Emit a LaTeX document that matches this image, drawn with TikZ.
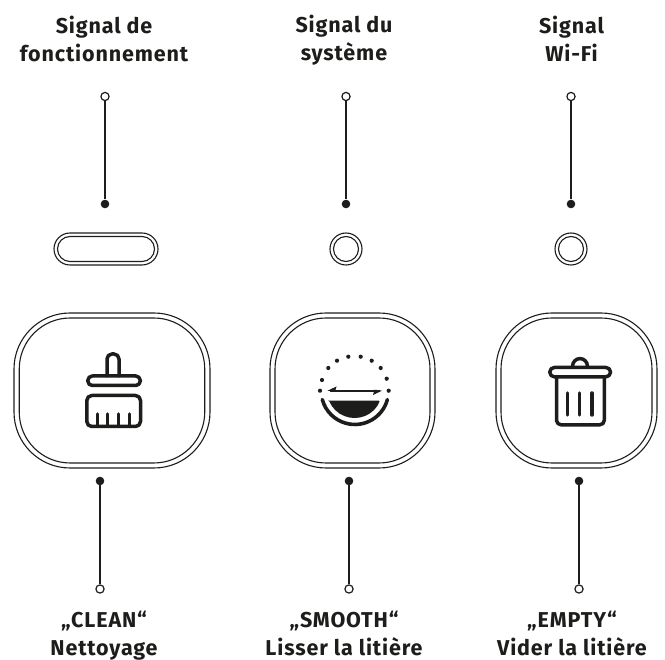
\documentclass[tikz,border=0pt]{standalone}
\usepackage{fontspec}
\setmainfont[LetterSpace=4]{Fira Sans}
\definecolor{ink}{HTML}{1D1D1B}
\newcommand\lstrut{\rule[-4pt]{0pt}{17pt}}
\begin{document}
\begin{tikzpicture}[x=1pt,y=-1pt,
  ring/.style={draw=ink,line width=1.1pt,rectangle,inner sep=0pt,fill=none},
  openend/.style={circle,draw=ink,line width=1.2pt,fill=white,minimum size=8.2pt,inner sep=0pt},
  solidend/.style={circle,fill=ink,draw=none,minimum size=8.6pt,inner sep=0pt},
  leader/.style={draw=ink,line width=1.2pt},
  icon/.style={draw=ink,line width=3.5pt,line cap=round,line join=round},
  lbl/.style={font=\fontsize{21.5}{28}\selectfont\bfseries,text=ink,align=center,inner sep=0pt}]
\useasboundingbox (0,0) rectangle (665,660);
% status lamps
\node[ring,minimum width=104pt,minimum height=32pt,rounded corners=16pt] (pillO) at (106,249) {};
\node[ring,minimum width=97pt,minimum height=25pt,rounded corners=12.5pt] (pillI) at (106,249) {};
\node[ring,circle,minimum size=32pt] (lampBO) at (346,249) {};
\node[ring,circle,minimum size=25pt] (lampBI) at (346,249) {};
\node[ring,circle,minimum size=32pt] (lampCO) at (571,249) {};
\node[ring,circle,minimum size=25pt] (lampCI) at (571,249) {};
% buttons
\node[ring,minimum width=196pt,minimum height=155pt,rounded corners=56pt] (btnAO) at (112,390.5) {};
\node[ring,minimum width=185.5pt,minimum height=145pt,rounded corners=51pt] (btnAI) at (112,390.5) {};
\node[ring,minimum width=165pt,minimum height=155pt,rounded corners=56pt] (btnBO) at (352.5,390.5) {};
\node[ring,minimum width=155pt,minimum height=145pt,rounded corners=51pt] (btnBI) at (352.5,390.5) {};
\node[ring,minimum width=161pt,minimum height=155pt,rounded corners=56pt] (btnCO) at (576.5,390.5) {};
\node[ring,minimum width=151pt,minimum height=145pt,rounded corners=51pt] (btnCI) at (576.5,390.5) {};
% leaders top
\node[openend] (ta) at (105,96.5) {};
\node[solidend] (tb) at (105,204) {};
\node[openend] (tc) at (346,96.5) {};
\node[solidend] (td) at (346,204) {};
\node[openend] (te) at (571,96.5) {};
\node[solidend] (tf) at (571,204) {};
\draw[leader] (ta) -- (tb);
\draw[leader] (tc) -- (td);
\draw[leader] (te) -- (tf);
% leaders bottom
\node[solidend] (ba) at (100,481) {};
\node[openend] (bb) at (100,589) {};
\node[solidend] (bc) at (349,481) {};
\node[openend] (bd) at (349,589) {};
\node[solidend] (be) at (579,481) {};
\node[openend] (bf) at (579,589) {};
\draw[leader] (ba) -- (bb);
\draw[leader] (bc) -- (bd);
\draw[leader] (be) -- (bf);
% brush icon
\draw[icon,rounded corners=5pt] (107,376) -- (107,354) -- (119,354) -- (119,376);
\draw[icon,rounded corners=4.5pt] (87.8,376) rectangle (140.3,385.5);
\draw[icon,rounded corners=5pt] (86.8,395.5) rectangle (140.5,426.5);
\foreach \x in {97.5,107.7,118.3,129.3} \draw[icon] (\x,414) -- (\x,426);
% smooth icon
\foreach \p/\q in {320.0/390.7,322.0/380.0,328.3/368.0,337.0/360.7,348.3/356.7,360.7/356.7,371.7/360.7,380.7/368.0,386.7/378.7,388.7/390.7}
  \fill[ink] (\p,\q) circle (2.1pt);
\draw[ink,line width=3.6pt,line cap=round] (387.4,399.5) arc[start angle=15,end angle=165,radius=33.7];
\fill[ink,rounded corners=1pt] (329.1,400.7) -- (379.9,400.7) arc[start angle=21.5,end angle=158.5,radius=27.3] -- cycle;
\draw[ink,line width=2pt] (330,390.7) -- (380,390.7);
\fill[ink] (327.5,390.7) -- (336.5,386.5) -- (335,391.7) -- cycle;
\fill[ink] (382,390.7) -- (373,395) -- (374.5,389.7) -- cycle;
% bin icon
\draw[icon,rounded corners=4.5pt] (549.8,367.5) rectangle (610.5,376.8);
\draw[icon] (572.6,366) arc[x radius=7.4,y radius=-7.4,start angle=180,end angle=0];
\draw[icon,rounded corners=4.5pt] (556.5,377) -- (556.5,424.8) -- (604.3,424.8) -- (604.3,377);
\foreach \x in {567.3,579.7,592} \draw[icon] (\x,393) -- (\x,415);
% labels
\node[lbl] (la) at (104,40.5) {\lstrut Signal de\\\lstrut fonctionnement};
\node[lbl] (lb) at (344,40.5) {\lstrut Signal du\\\lstrut système};
\node[lbl] (lc) at (571.5,40.5) {\lstrut Signal\\\lstrut Wi-Fi};
\node[lbl] (ld) at (104,635.5) {\lstrut „CLEAN“\\\lstrut Nettoyage};
\node[lbl] (le) at (344,635.5) {\lstrut „SMOOTH“\\\lstrut Lisser la litière};
\node[lbl] (lf) at (572,635.5) {\lstrut „EMPTY“\\\lstrut Vider la litière};
\end{tikzpicture}
\end{document}
